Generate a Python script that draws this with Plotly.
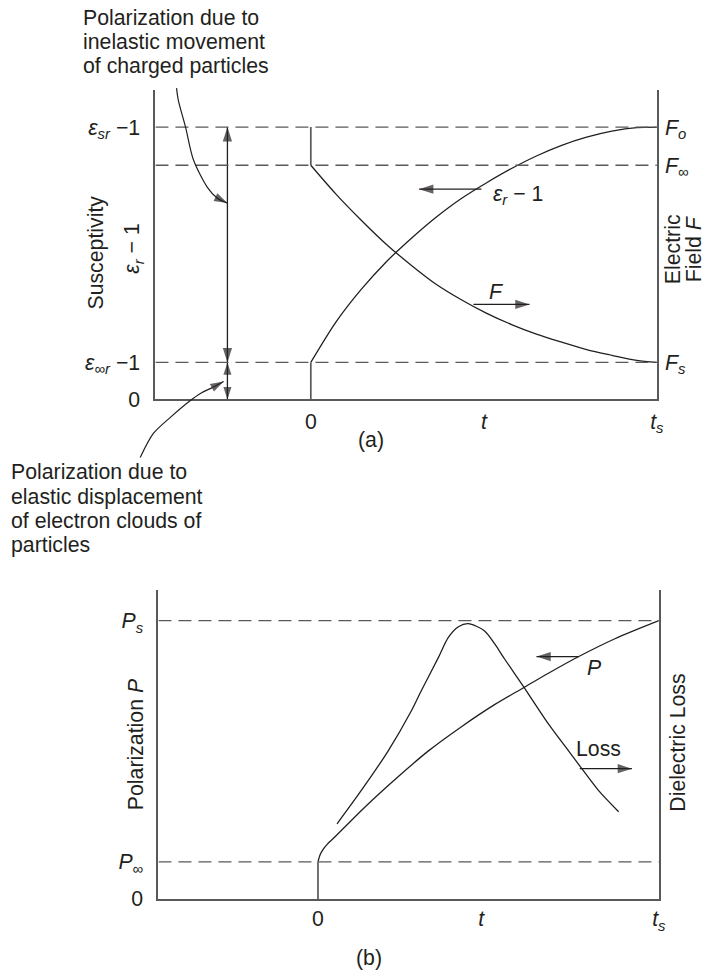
import plotly.graph_objects as go

# reference canvas in pixels (all layout positions below are measured on it)
W, H = 704, 974
SCALE = 1.013                      # compensates the slight shrink seen in the photographed page
FW, FH = round(W * SCALE), round(H * SCALE)
FONT = "Liberation Sans, Arial, Helvetica, sans-serif"
INK = "#231f20"
AXC = "#58595b"
FS = 21 * SCALE

# ---------------- data: panel (a) ----------------
# t in units of t_s ; susceptivity in units of (eps_sr - 1)
a_levels = [1.0, 0.860, 0.136]          # eps_sr-1 (=F_o), F_inf, eps_inf_r-1 (=F_s)
a_eps_t = [0.0, 0.072, 0.145, 0.217, 0.290, 0.362, 0.435, 0.507, 0.580, 0.652, 0.725, 0.797, 0.870, 0.942, 1.0]
a_eps_v = [0.136, 0.283, 0.403, 0.504, 0.591, 0.669, 0.738, 0.795, 0.848, 0.894, 0.933, 0.963, 0.985, 0.998, 1.0]
a_eps_step_t = [0.0, 0.0]
a_eps_step_v = [0.0, 0.136]
a_F_t = [0.0, 0.072, 0.145, 0.217, 0.290, 0.362, 0.435, 0.507, 0.580, 0.652, 0.725, 0.797, 0.870, 0.942, 1.0]
a_F_v = [0.860, 0.755, 0.659, 0.571, 0.493, 0.423, 0.366, 0.317, 0.275, 0.240, 0.210, 0.183, 0.162, 0.143, 0.136]
a_F_step_t = [0.0, 0.0]
a_F_step_v = [1.0, 0.860]
a_left_ticks = [0.0, 0.136, 1.0]
a_left_text = ["0", "<i>ε</i><sub>∞<i>r</i></sub> −1", "<i>ε</i><sub><i>sr</i></sub> −1"]
a_right_ticks = [1.0, 0.860, 0.136]
a_right_text = ["<i>F</i><sub><i>o</i></sub>", "<i>F</i><sub>∞</sub>", "<i>F</i><sub><i>s</i></sub>"]
a_x_ticks = [0.0, 0.5, 1.0]
a_x_text = ["0", "<i>t</i>", "<i>t</i><sub><i>s</i></sub>"]
a_xrange = [-0.449, 1.0]
a_yrange = [0.0, 1.136]
# arrows (tail -> tip)
a_arrow_eps = ([0.493, 0.313], [0.772, 0.772])
a_arrow_F = ([0.470, 0.632], [0.349, 0.349])
a_span_x = -0.241
a_span_big = [1.0, 0.136]
a_span_small = [0.136, 0.0]
# leader curves (panel-a units)
lead_top_t = [-0.388, -0.383, -0.362, -0.339, -0.299, -0.270, -0.241]
lead_top_v = [1.143, 1.099, 1.0, 0.879, 0.779, 0.739, 0.721]
lead_bot_t = [-0.493, -0.455, -0.406, -0.348, -0.319, -0.284, -0.252]
lead_bot_v = [-0.213, -0.125, -0.066, -0.004, 0.022, 0.044, 0.066]

# ---------------- data: panel (b) ----------------
b_levels = [1.0, 0.133]                 # P_s, P_inf
b_P_t = [0.0, 0.006, 0.015, 0.027, 0.044, 0.135, 0.235, 0.324, 0.421, 0.518, 0.603, 0.676, 0.765, 0.871, 1.0]
b_P_v = [0.133, 0.158, 0.178, 0.196, 0.216, 0.327, 0.439, 0.532, 0.619, 0.698, 0.759, 0.811, 0.871, 0.935, 1.0]
b_P_step_t = [0.0, 0.0]
b_P_step_v = [0.0, 0.133]
b_L_t = [0.056, 0.126, 0.206, 0.274, 0.303, 0.353, 0.382, 0.412, 0.441, 0.488, 0.518, 0.547,
         0.603, 0.676, 0.735, 0.774, 0.824, 0.882]
b_L_v = [0.270, 0.388, 0.532, 0.676, 0.748, 0.867, 0.939, 0.978, 0.989, 0.964, 0.917, 0.863,
         0.763, 0.629, 0.532, 0.468, 0.388, 0.313]
b_left_ticks = [0.0, 0.133, 1.0]
b_left_text = ["0", "<i>P</i><sub>∞</sub>", "<i>P</i><sub><i>s</i></sub>"]
b_x_ticks = [0.0, 0.479, 1.0]
b_x_text = ["0", "<i>t</i>", "<i>t</i><sub><i>s</i></sub>"]
b_xrange = [-0.468, 1.0]
b_yrange = [0.0, 1.1115]
b_arrow_P = ([0.765, 0.641], [0.871, 0.871])
b_arrow_L = ([0.768, 0.921], [0.468, 0.468])

# ---------------- layout geometry (reference pixels) ----------------
A_L, A_R, A_T, A_B = 155, 655, 90, 399
B_L, B_R, B_T, B_B = 158, 657, 589, 898


def dom_x(l, r):
    return [l / W, r / W]


def dom_y(t, b):
    return [1 - b / H, 1 - t / H]


def full_range(rng, dom):
    s = (rng[1] - rng[0]) / (dom[1] - dom[0])
    return [rng[0] - dom[0] * s, rng[1] + (1 - dom[1]) * s]


a_dx, a_dy = dom_x(A_L, A_R), dom_y(A_T, A_B)
b_dx, b_dy = dom_x(B_L, B_R), dom_y(B_T, B_B)

fig = go.Figure()


def line(x, y, xa, ya, color=INK, width=1.3, dash=None, shape="spline"):
    fig.add_trace(go.Scatter(x=x, y=y, mode="lines", xaxis=xa, yaxis=ya,
                             line=dict(color=color, width=width, dash=dash,
                                       shape=shape, smoothing=0.8),
                             hoverinfo="skip"))


def arrow(xs, ys, xa, ya, angles, sizes=None):
    n = len(xs)
    fig.add_trace(go.Scatter(x=xs, y=ys, mode="lines+markers", xaxis=xa, yaxis=ya,
                             line=dict(color=INK, width=1.3),
                             marker=dict(symbol="arrow", color=INK, line=dict(width=0),
                                         size=sizes or [0] * (n - 1) + [15],
                                         angle=angles),
                             hoverinfo="skip"))


DASH = "13px,7px"
# panel (a) — dashed levels are drawn against the right (field) axis, same scale
for lv in a_levels:
    line(a_xrange, [lv, lv], "x", "y2", color=AXC, width=1.4, dash=DASH, shape="linear")
line(a_eps_step_t, a_eps_step_v, "x", "y", color=AXC, width=1.7, shape="linear")
line(a_F_step_t, a_F_step_v, "x", "y", color=AXC, width=1.7, shape="linear")
line(a_eps_t, a_eps_v, "x", "y")
line(a_F_t, a_F_v, "x", "y")
arrow(a_arrow_eps[0], a_arrow_eps[1], "x", "y", [0, 270])
arrow(a_arrow_F[0], a_arrow_F[1], "x", "y", [0, 90])
arrow([a_span_x, a_span_x], a_span_big, "x", "y", [0, 180], sizes=[15, 15])
arrow([a_span_x, a_span_x], a_span_small, "x", "y", [0, 180], sizes=[13, 13])

# panel (b)
for lv in b_levels:
    line(b_xrange, [lv, lv], "x3", "y4", color=AXC, width=1.4, dash=DASH, shape="linear")
line(b_P_step_t, b_P_step_v, "x3", "y3", color=AXC, width=1.7, shape="linear")
line(b_P_t, b_P_v, "x3", "y3")
line(b_L_t, b_L_v, "x3", "y3")
arrow(b_arrow_P[0], b_arrow_P[1], "x3", "y3", [0, 270])
arrow(b_arrow_L[0], b_arrow_L[1], "x3", "y3", [0, 90])

# leader curves on a full-page overlay that shares panel (a) scale
for lt, lv in ((lead_top_t, lead_top_v), (lead_bot_t, lead_bot_v)):
    line(lt, lv, "x5", "y5", width=1.2)
    fig.add_trace(go.Scatter(x=lt[-2:], y=lv[-2:], mode="markers", xaxis="x5", yaxis="y5",
                             marker=dict(symbol="arrow", color=INK, size=[0, 14],
                                         angleref="previous", line=dict(width=0)),
                             hoverinfo="skip"))

tickfont = dict(family=FONT, size=FS, color=INK)
common = dict(showgrid=False, zeroline=False, showline=True, linecolor=AXC, linewidth=2,
              ticks="outside", tickcolor="rgba(0,0,0,0)", tickfont=tickfont, fixedrange=True)

fig.update_layout(
    width=FW, height=FH, margin=dict(l=0, r=0, t=0, b=0), autosize=False,
    paper_bgcolor="white", plot_bgcolor="rgba(0,0,0,0)", showlegend=False,
    font=dict(family=FONT, size=FS, color=INK),
    xaxis=dict(domain=a_dx, range=a_xrange, anchor="y", tickvals=a_x_ticks,
               ticktext=a_x_text, ticklen=2, **common),
    yaxis=dict(domain=a_dy, range=a_yrange, anchor="x", tickvals=a_left_ticks,
               ticktext=a_left_text, ticklen=9, **common),
    yaxis2=dict(domain=a_dy, range=a_yrange, anchor="x", overlaying="y", side="right",
                tickvals=a_right_ticks, ticktext=a_right_text, ticklen=2, **common),
    xaxis3=dict(domain=b_dx, range=b_xrange, anchor="y3", tickvals=b_x_ticks,
                ticktext=b_x_text, ticklen=0, **common),
    yaxis3=dict(domain=b_dy, range=b_yrange, anchor="x3", tickvals=b_left_ticks,
                ticktext=b_left_text, ticklen=9, **common),
    yaxis4=dict(domain=b_dy, range=b_yrange, anchor="x3", overlaying="y3", side="right",
                tickvals=[], **common),
    xaxis5=dict(domain=[0, 1], range=full_range(a_xrange, a_dx), anchor="y5", visible=False,
                fixedrange=True),
    yaxis5=dict(domain=[0, 1], range=full_range(a_yrange, a_dy), anchor="x5", visible=False,
                fixedrange=True),
)

# ---------------- texts ----------------
top_note = ["Polarization due to", "inelastic movement", "of charged particles"]
top_note_y = [18, 42, 66]
bot_note = ["Polarization due to", "elastic displacement", "of electron clouds of", "particles"]
bot_note_y = [472, 496, 520, 544]


def ptext(txt, xpx, ypx, xanchor="center", angle=0, size=FS):
    fig.add_annotation(text=txt, x=xpx / W, y=1 - ypx / H, xref="paper", yref="paper",
                       showarrow=False, xanchor=xanchor, yanchor="middle", textangle=angle,
                       font=dict(family=FONT, size=size, color=INK))


for s, yy in zip(top_note, top_note_y):
    ptext(s, 81, yy, xanchor="left")
for s, yy in zip(bot_note, bot_note_y):
    ptext(s, 9, yy, xanchor="left")

ptext("Susceptivity", 96, 252, angle=-90)
ptext("<i>ε</i><sub><i>r</i></sub> − 1", 133, 248, angle=-90)
ptext("Electric", 671, 249, angle=-90)
ptext("Field <i>F</i>", 692, 249, angle=-90)
ptext("Polarization <i>P</i>", 135, 743, angle=-90)
ptext("Dielectric Loss", 676, 742, angle=-90)
ptext("(a)", 370, 440)
ptext("(b)", 368, 957)


def dtext(txt, x, y, xa, ya, xanchor="center"):
    fig.add_annotation(text=txt, x=x, y=y, xref=xa, yref=ya, showarrow=False,
                       xanchor=xanchor, yanchor="middle",
                       font=dict(family=FONT, size=FS, color=INK))


dtext("<i>ε</i><sub><i>r</i></sub> − 1", 0.522, 0.75, "x", "y", xanchor="left")
dtext("<i>F</i>", 0.536, 0.393, "x", "y")
dtext("<i>P</i>", 0.812, 0.831, "x3", "y3")
dtext("Loss", 0.824, 0.540, "x3", "y3")

# the page's default 8px body margin would shift the whole figure; remove it
fig.write_html("out.html", config={"displayModeBar": False},
               post_script="document.body.style.margin='0';"
                           "document.documentElement.style.overflow='hidden';")
